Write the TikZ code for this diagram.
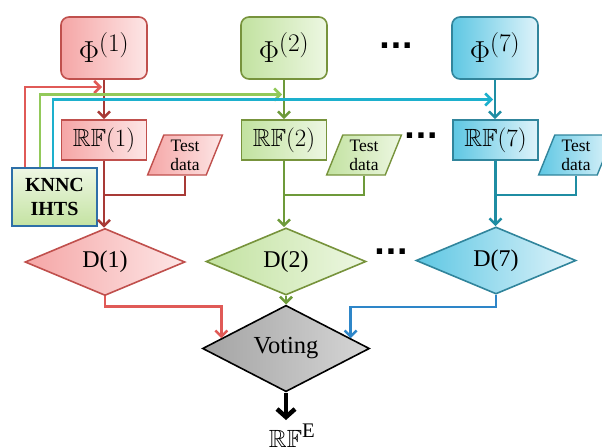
\documentclass[tikz,border=0pt]{standalone}
\usepackage{amssymb}
\usepackage{graphicx}
\usepackage{fontspec}
\setmainfont{Liberation Serif}
\newfontfamily\dotfam{DejaVu Sans}
\usetikzlibrary{shapes.geometric,arrows.meta}
\definecolor{redB}{HTML}{C0504D}
\definecolor{redL}{HTML}{F5A6A6}
\definecolor{redR}{HTML}{FDE6E6}
\definecolor{redLine}{HTML}{A83A36}
\definecolor{redK}{HTML}{E05A57}
\definecolor{grnB}{HTML}{77933C}
\definecolor{grnL}{HTML}{C2E2A0}
\definecolor{grnR}{HTML}{EDF7E2}
\definecolor{grnLine}{HTML}{6E9A3A}
\definecolor{grnK}{HTML}{92C95A}
\definecolor{cyaB}{HTML}{31859C}
\definecolor{cyaL}{HTML}{5EC7E3}
\definecolor{cyaR}{HTML}{DFF3FA}
\definecolor{cyaLine}{HTML}{1F8DA3}
\definecolor{cyaK}{HTML}{1DB0CD}
\definecolor{bluLine}{HTML}{2E86C8}
\definecolor{knnB}{HTML}{2E6FA8}
\definecolor{knnT}{HTML}{EEF7E4}
\definecolor{knnBot}{HTML}{C4E3A2}
\newcommand{\phitxt}[1]{\scalebox{1.22}{$\Phi^{(#1)}$}}
\tikzset{
  phibox/.style={rectangle, rounded corners=8pt, minimum width=86pt, minimum height=62pt, line width=1.6pt, inner sep=0pt, font=\fontsize{24.88}{30}\selectfont},
  rfbox/.style={rectangle, minimum width=85pt, minimum height=40pt, line width=1.6pt, inner sep=0pt, font=\fontsize{24.88}{30}\selectfont},
  tdbox/.style={trapezium, trapezium left angle=70, trapezium right angle=110, trapezium stretches=true, minimum width=75pt, minimum height=40pt, line width=1.4pt, inner sep=0pt, align=center, font=\fontsize{17.5}{19}\selectfont},
  dbox/.style={diamond, minimum width=160pt, minimum height=58pt, line width=1.6pt, inner sep=0pt, font=\fontsize{24}{28}\selectfont},
  con/.style={line width=2.5pt},
  arr/.style={con, -{Straight Barb[length=6pt,width=12pt]}},
  dotstyle/.style={font=\dotfam\bfseries\fontsize{30}{32}\selectfont, inner sep=0pt}
}
\begin{document}
\begin{tikzpicture}[x=1pt,y=-1pt]
\useasboundingbox (0,0) rectangle (602,447);
% column 1
\node[phibox, draw=redB, left color=redL, right color=redR] (phi1) at (104,48) {\phitxt{1}};
\node[rfbox, draw=redB, left color=redL, right color=redR] (rf1) at (104,140) {$\mathbb{RF}(1)$};
\node[tdbox, draw=redB, left color=redL, right color=redR] (td1) at (185,155) {Test\\data};
\node[dbox, draw=redB, left color=redL, right color=redR] (d1) at (105,262) {D(1)};
% column 2
\node[phibox, draw=grnB, left color=grnL, right color=grnR] (phi2) at (284,48) {\phitxt{2}};
\node[rfbox, draw=grnB, left color=grnL, right color=grnR] (rf2) at (284,140) {$\mathbb{RF}(2)$};
\node[tdbox, draw=grnB, left color=grnL, right color=grnR] (td2) at (364,155) {Test\\data};
\node[dbox, draw=grnB, left color=grnL, right color=grnR] (d2) at (286,261.5) {D(2)};
% column 7
\node[phibox, draw=cyaB, left color=cyaL, right color=cyaR] (phi7) at (495,48) {\phitxt{7}};
\node[rfbox, draw=cyaB, left color=cyaL, right color=cyaR] (rf7) at (495.5,140) {$\mathbb{RF}(7)$};
\node[tdbox, draw=cyaB, left color=cyaL, right color=cyaR] (td7) at (576,155) {Test\\data};
\node[dbox, draw=cyaB, left color=cyaL, right color=cyaR] (d7) at (496,260.5) {D(7)};
% knnc
\node[rectangle, draw=knnB, line width=1.6pt, top color=knnT, bottom color=knnBot, minimum width=85pt, minimum height=58pt, inner sep=0pt, align=center, font=\bfseries\fontsize{20}{23.5}\selectfont] (knn) at (54.5,197) {KNNC\\IHTS};
% voting
\node[diamond, draw=black, line width=1.6pt, left color=gray!72, right color=gray!32, minimum width=167pt, minimum height=69pt, inner sep=0pt, font=\fontsize{24.5}{28}\selectfont] (vote) at (286,348.5) {Voting};
\node[anchor=base, inner sep=0pt, font=\fontsize{24.88}{28}\selectfont] (rfe) at (292,447) {$\mathbb{RF}^{\mathrm{E}}$};
% dots
\node[dotstyle] (dots1) at (396,46) {...};
\node[dotstyle] (dots2) at (421,136) {...};
\node[dotstyle] (dots3) at (391,252) {...};
% junction coordinates
\coordinate (j1) at (0,195);
\coordinate (j2) at (0,195);
\coordinate (j7) at (0,195);
\coordinate (kr) at (0,87);
\coordinate (kg) at (0,94.5);
\coordinate (kc) at (0,99.5);
\coordinate (vend) at (0,420);
% column connectors
\draw[arr, draw=redLine] (phi1.south) -- (rf1.north);
\draw[arr, draw=redLine] (rf1.south) -- (rf1.south |- d1.north);
\draw[con, draw=redLine] (td1.center |- td1.south) |- (rf1.south |- j1);
\draw[arr, draw=grnLine] (phi2.south) -- (phi2.south |- rf2.north);
\draw[arr, draw=grnLine] (rf2.south) -- (rf2.south |- d2.north);
\draw[con, draw=grnLine] (td2.center |- td2.south) |- (rf2.south |- j2);
\draw[arr, draw=cyaLine] (phi7.south) -- (phi7.south |- rf7.north);
\draw[arr, draw=cyaLine] (rf7.south) -- (rf7.south |- d7.north);
\draw[con, draw=cyaLine] (td7.center |- td7.south) |- (rf7.south |- j7);
% knnc lines
\draw[arr, draw=redK] ([xshift=14pt]knn.north west) |- ([xshift=-2pt]phi1.south |- kr);
\draw[arr, draw=grnK] ([xshift=29pt]knn.north west) |- ([xshift=-2pt]phi2.south |- kg);
\draw[arr, draw=cyaK] ([xshift=42pt]knn.north west) |- ([xshift=-2pt]phi7.south |- kc);
% to voting
\draw[arr, draw=redK] (d1.south) -- ++(0,10) -| (vote.171);
\draw[arr, draw=grnLine] (d2.south) -- (d2.south |- vote.north);
\draw[arr, draw=bluLine] (d7.south) -- ++(0,12) -| (vote.9);
\draw[line width=4.5pt, -{Straight Barb[length=8pt,width=18pt]}] (vote.south) -- (vote.south |- vend);
\end{tikzpicture}
\end{document}
